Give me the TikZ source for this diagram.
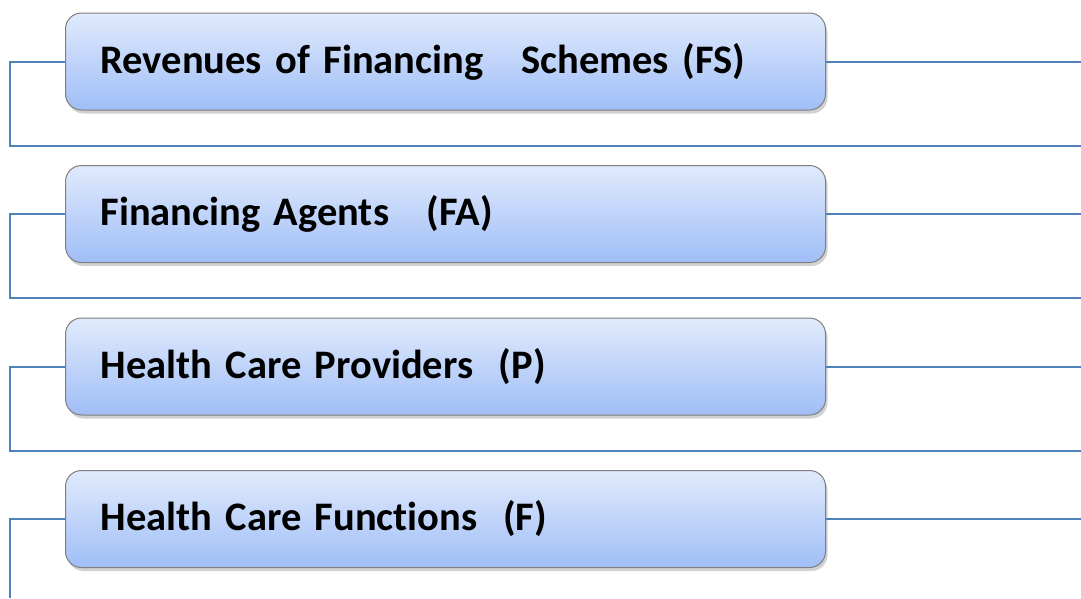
\documentclass[tikz,border=0pt]{standalone}
\usepackage{fontspec}
\setmainfont{Carlito}[Ligatures=NoCommon]
\usetikzlibrary{shadows}
\definecolor{linkblue}{HTML}{4F81BD}
\definecolor{boxtop}{HTML}{E0EAFC}
\definecolor{boxbot}{HTML}{A0BEF7}
\definecolor{boxedge}{HTML}{7F7F7F}
\tikzset{
  stagebox/.style={draw=boxedge, line width=1pt, rounded corners=16pt,
    top color=boxtop, bottom color=boxbot,
    minimum width=760pt, minimum height=97pt, text width=690pt,
    inner xsep=35pt, align=left, anchor=west,
    font=\fontsize{40.5}{46}\selectfont\bfseries,
    drop shadow={shadow xshift=2pt, shadow yshift=-3.5pt, opacity=0.3, fill=black!60}},
  link/.style={draw=linkblue, line width=2pt}
}
\begin{document}
\begin{tikzpicture}[x=1pt,y=1pt]
\useasboundingbox (0,0) rectangle (1081,-598);
\node[stagebox] (b1) at (65,-61.5) {Revenues of Financing\hspace{0.6em} Schemes (FS)};
\node[stagebox] (b2) at (65,-214) {Financing Agents\hspace{0.6em} (FA)};
\node[stagebox] (b3) at (65,-366.5) {Health Care Providers\hspace{0.3em} (P)};
\node[stagebox] (b4) at (65,-519) {Health Care Functions\hspace{0.3em} (F)};
\coordinate (r1) at (1081,-61.5);
\coordinate (r2) at (1081,-214);
\coordinate (r3) at (1081,-366.5);
\coordinate (r4) at (1081,-519);
\coordinate (e1) at (1081,-145.5);
\coordinate (e2) at (1081,-297.5);
\coordinate (e3) at (1081,-450.5);
\coordinate (e4) at (10,-598);
\draw[link] (b1.west) -| (10,-145.5) -- (e1);
\draw[link] (b2.west) -| (10,-297.5) -- (e2);
\draw[link] (b3.west) -| (10,-450.5) -- (e3);
\draw[link] (b4.west) -| (e4);
\draw[link] (b1.east) -- (r1);
\draw[link] (b2.east) -- (r2);
\draw[link] (b3.east) -- (r3);
\draw[link] (b4.east) -- (r4);
\end{tikzpicture}
\end{document}
